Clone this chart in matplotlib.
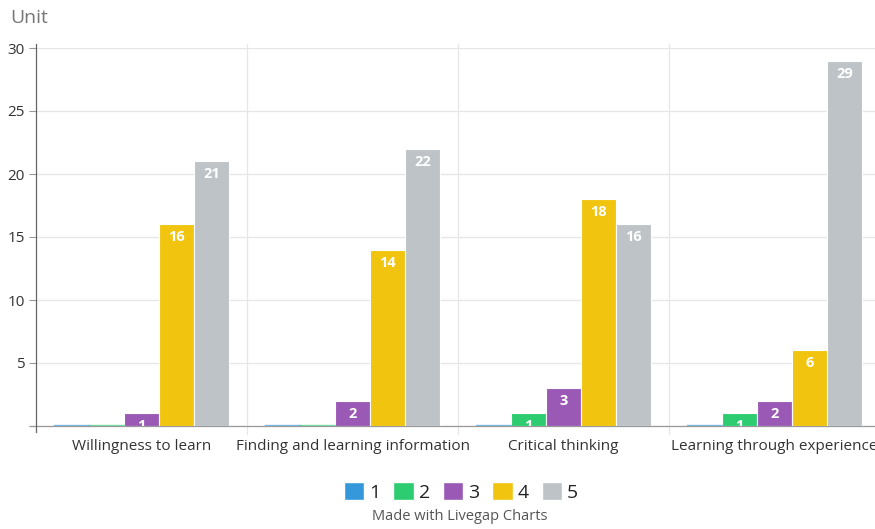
import matplotlib
matplotlib.use("Agg")
import matplotlib.pyplot as plt
from matplotlib.patches import Patch
import numpy as np

plt.rcParams['font.family'] = ['Open Sans', 'DejaVu Sans']

categories = ["Willingness to learn", "Finding and learning information",
              "Critical thinking", "Learning through experience"]
series_names = ["1", "2", "3", "4", "5"]
s1 = [0, 0, 0, 0]
s2 = [0, 0, 1, 1]
s3 = [1, 2, 3, 2]
s4 = [16, 14, 18, 6]
s5 = [21, 22, 16, 29]
series = [s1, s2, s3, s4, s5]
colors = ["#3498db", "#2ecc71", "#9b59b6", "#f1c40f", "#bdc3c7"]

W, H = 875, 529
fig = plt.figure(figsize=(W / 100, H / 100), dpi=100)
left, right, bottom, top = 36, 880, 426, 48
ax = fig.add_axes([left / W, 1 - bottom / H, (right - left) / W, (bottom - top) / H])

x = np.arange(len(categories))
bw = 0.166
for i, (vals, c) in enumerate(zip(series, colors)):
    pos = x + (i - 2) * bw
    edges = [c if v == 0 else "white" for v in vals]
    ax.bar(pos, vals, width=bw, color=c, edgecolor=edges, linewidth=0.8, zorder=3)
    for p, v in zip(pos, vals):
        if v > 0:
            ax.text(p, v - 1.03, str(v), ha="center", va="center", color="white",
                    fontsize=10.5, fontweight="bold", zorder=4, clip_on=True)
    for p, v in zip(pos, vals):
        if v == 0:
            ax.plot([p - bw / 2, p + bw / 2], [0.08, 0.08], color=c, alpha=0.6,
                    linewidth=1, zorder=6)

ax.set_xlim(-0.5, len(categories) - 0.5)
ax.set_ylim(0, 30)
ax.set_yticks([0, 5, 10, 15, 20, 25, 30])
ax.set_yticklabels(["", "5", "10", "15", "20", "25", "30"])
ax.tick_params(axis="y", length=5, width=0.8, color="#999999", labelsize=11,
               labelcolor="#333333", pad=3)
ax.set_xticks(x)
ax.set_xticklabels(categories, fontsize=11, color="#333333")
ax.tick_params(axis="x", length=0, pad=9)

ax.grid(axis="y", color="#e6e6e6", linewidth=0.9, zorder=0)
for b in [0.5, 1.5, 2.5]:
    ax.plot([b, b], [-0.6, 30.3], color="#e6e6e6", linewidth=0.9, clip_on=False, zorder=0)
ax.plot([-0.5, -0.5], [-0.5, 30.3], color="#666666", linewidth=0.9, clip_on=False, zorder=5)

for s in ["top", "right", "left"]:
    ax.spines[s].set_visible(False)
ax.spines["bottom"].set_color("#999999")
ax.spines["bottom"].set_linewidth(0.9)
ax.plot([-0.53, -0.5], [0, 0], color="#999999", linewidth=0.9, clip_on=False)

fig.text(10 / W, 1 - 18 / H, "Unit", fontsize=14, color="#777777", ha="left", va="center")

handles = [Patch(facecolor=c, edgecolor="white", label=n) for c, n in zip(colors, series_names)]
fig.legend(handles=handles, loc="center", bbox_to_anchor=(461 / W, 1 - 492 / H), ncol=5,
           frameon=False, fontsize=14, handlelength=1.05, handleheight=1.05,
           handletextpad=0.27, columnspacing=0.65, borderpad=0, labelcolor="#222222")
fig.text(460 / W, 1 - 516 / H, "Made with Livegap Charts", fontsize=10.5, color="#555555",
         ha="center", va="center")

fig.savefig("out.png", dpi=100)
